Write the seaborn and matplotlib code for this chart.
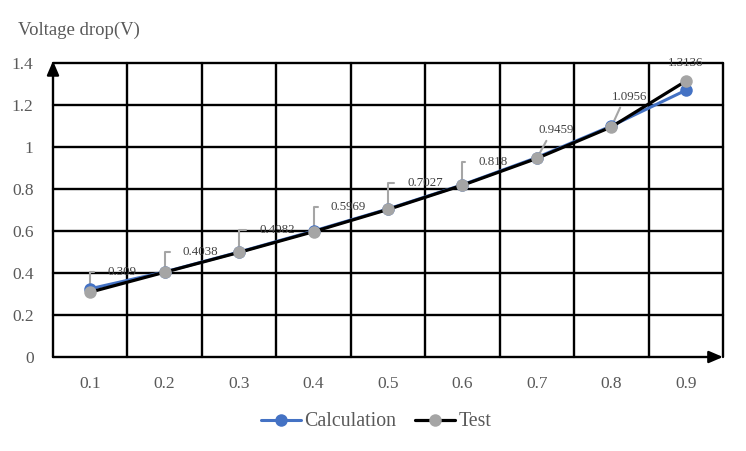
import matplotlib
matplotlib.use("Agg")
import matplotlib.pyplot as plt
import seaborn as sns
import pandas as pd

# ---- data ----
categories = ["0.1", "0.2", "0.3", "0.4", "0.5", "0.6", "0.7", "0.8", "0.9"]
calculation = [0.325, 0.405, 0.50, 0.60, 0.705, 0.82, 0.95, 1.10, 1.27]
test = [0.309, 0.4038, 0.4982, 0.5969, 0.7027, 0.818, 0.9459, 1.0956, 1.3136]
test_labels = ["0.309", "0.4038", "0.4982", "0.5969", "0.7027", "0.818", "0.9459", "1.0956", "1.3136"]
y_ticks = [0, 0.2, 0.4, 0.6, 0.8, 1.0, 1.2, 1.4]
y_tick_labels = ["0", "0.2", "0.4", "0.6", "0.8", "1", "1.2", "1.4"]

sns.set_theme(style="white")
plt.rcParams["font.family"] = ["Liberation Serif", "DejaVu Serif"]

fig = plt.figure(figsize=(7.46, 4.51), dpi=100)
ax = fig.add_axes([53 / 746, 1 - 357 / 451, (723 - 53) / 746, (357 - 63) / 451])

pos = list(range(len(categories)))
df = pd.DataFrame({"pos": pos, "calc": calculation, "test": test})

TXT = "#595959"
LBL = "#404040"
BLUE = "#4472C4"
GRAY = "#A5A5A5"

sns.lineplot(data=df, x="pos", y="calc", ax=ax, color=BLUE, linewidth=2.2,
             marker="o", markersize=9, markeredgewidth=0, zorder=3, label="Calculation")
sns.lineplot(data=df, x="pos", y="test", ax=ax, color="black", linewidth=2.3,
             marker="o", markersize=9, markerfacecolor=GRAY, markeredgecolor=GRAY,
             markeredgewidth=0, zorder=4, label="Test")

ax.set_xlim(-0.5, len(categories) - 0.5)
ax.set_ylim(0, 1.4)
for s in ax.spines.values():
    s.set_visible(False)

# grid lines
for yv in y_ticks[1:]:
    ax.plot([-0.5, len(categories) - 0.5], [yv, yv], color="black", lw=1.7, clip_on=False, zorder=1)
for k in range(1, len(categories) + 1):
    ax.plot([k - 0.5, k - 0.5], [0, 1.4], color="black", lw=1.7, clip_on=False, zorder=1)

# axes with arrows
ax.annotate("", xy=(len(categories) - 0.5, 0), xytext=(-0.5, 0), xycoords="data",
            arrowprops=dict(arrowstyle="-|>,head_length=0.7,head_width=0.3", color="black", lw=1.7,
                            shrinkA=0, shrinkB=0), annotation_clip=False, zorder=2)
ax.annotate("", xy=(-0.5, 1.41), xytext=(-0.5, 0), xycoords="data",
            arrowprops=dict(arrowstyle="-|>,head_length=0.7,head_width=0.3", color="black", lw=1.7,
                            shrinkA=0, shrinkB=0), annotation_clip=False, zorder=2)

ax.set_xticks(pos)
ax.set_xticklabels(categories)
ax.set_yticks(y_ticks)
ax.set_yticklabels(y_tick_labels)
ax.tick_params(axis="both", length=0, labelsize=12.5, labelcolor=TXT)
ax.tick_params(axis="x", pad=14)
ax.tick_params(axis="y", pad=14)
ax.set_xlabel("")
ax.set_ylabel("")
ax.grid(False)

# data labels
offsets = [(17, 20), (18, 20), (20, 22), (17, 25), (19, 26), (16, 23), (19, 28), (18, 30), (0, 18)]
for i, (val, lab) in enumerate(zip(test, test_labels)):
    dx, dy = offsets[i]
    if i <= 5:
        ax.annotate(lab, xy=(pos[i], val), xytext=(dx, dy), textcoords="offset pixels",
                    ha="left", va="center", fontsize=9.3, color=LBL,
                    arrowprops=dict(arrowstyle="-", color=GRAY, lw=1.5,
                                    connectionstyle="angle,angleA=0,angleB=90,rad=0",
                                    relpos=(0, 0.5), shrinkA=7, shrinkB=0), zorder=2)
    elif i <= 7:
        ax.annotate(lab, xy=(pos[i], val), xytext=(dx, dy), textcoords="offset pixels",
                    ha="center", va="center", fontsize=9.3, color=LBL,
                    arrowprops=dict(arrowstyle="-", color=GRAY, lw=1.5,
                                    relpos=(0.3, 0), shrinkA=1, shrinkB=0), zorder=2)
    else:
        ax.annotate(lab, xy=(pos[i], val), xytext=(dx, dy), textcoords="offset pixels",
                    ha="center", va="center", fontsize=9.3, color=LBL, zorder=2)

# y-axis title
fig.text(18 / 746, 1 - 30 / 451, "Voltage drop(V)", ha="left", va="center", fontsize=13.5, color=TXT)

# legend
handles, labels = ax.get_legend_handles_labels()
ax.get_legend().remove()
fig.legend(handles, labels, loc="center", bbox_to_anchor=(376 / 746, 1 - 422 / 451), ncol=2,
           frameon=False, fontsize=14.3, handlelength=2.0, columnspacing=1.0, handletextpad=0.15,
           labelcolor=TXT)

fig.savefig("out.png", dpi=100)
